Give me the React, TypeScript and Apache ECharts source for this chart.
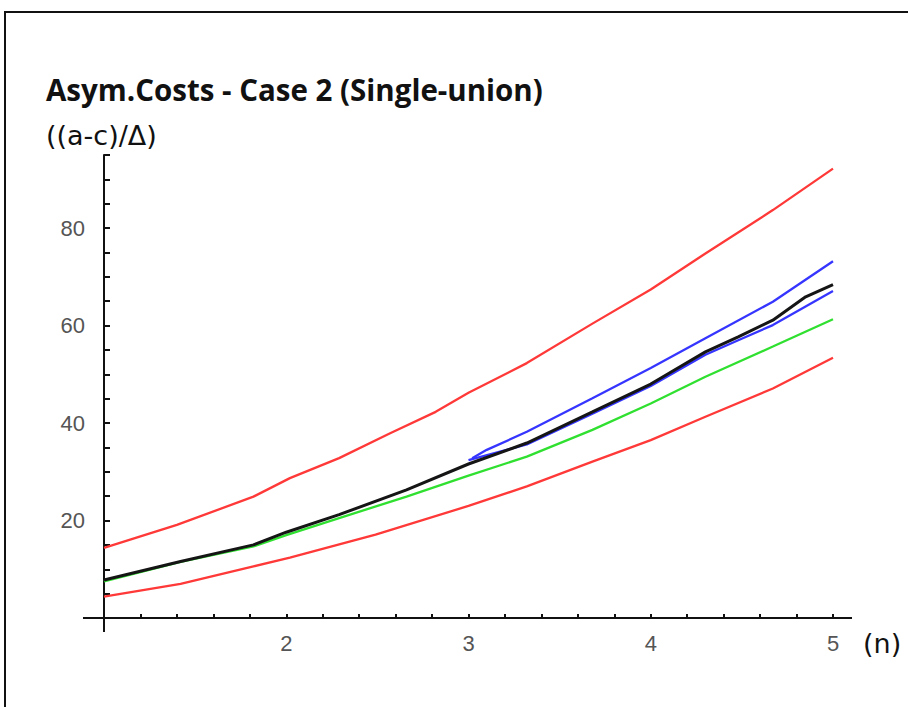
import React, { useEffect, useRef } from "react";
import * as echarts from "echarts";

// Data (x = n, y = (a-c)/Δ)
const upperRed: [number, number][] = [
  [1, 14.4], [1.4, 19.1], [1.82, 24.9], [2.02, 28.7], [2.29, 32.8], [2.57, 37.9],
  [2.82, 42.3], [3.0, 46.2], [3.32, 52.3], [3.68, 60.4], [4.0, 67.4], [4.3, 74.8],
  [4.67, 83.7], [5.0, 92.2],
];
const lowerRed: [number, number][] = [
  [1, 4.4], [1.42, 7.0], [1.82, 10.6], [2.02, 12.4], [2.49, 17.1], [3.0, 23.0],
  [3.32, 27.0], [3.68, 32.1], [4.0, 36.5], [4.3, 41.3], [4.67, 47.1], [5.0, 53.4],
];
const greenLine: [number, number][] = [
  [1, 7.5], [1.42, 11.5], [1.82, 14.7], [2.0, 17.0], [2.29, 20.5], [2.66, 24.9],
  [3.0, 29.2], [3.32, 33.1], [3.68, 38.6], [4.0, 44.0], [4.3, 49.5], [4.67, 55.7],
  [5.0, 61.3],
];
const blackLine: [number, number][] = [
  [1, 7.8], [1.42, 11.6], [1.82, 15.0], [2.0, 17.6], [2.29, 21.2], [2.66, 26.3],
  [3.0, 31.6], [3.32, 35.9], [3.68, 42.3], [4.0, 48.0], [4.3, 54.6], [4.48, 57.7],
  [4.67, 61.1], [4.85, 65.9], [5.0, 68.4],
];
const upperBlue: [number, number][] = [
  [3.02, 32.8], [3.1, 34.5], [3.32, 38.2], [3.68, 45.1], [4.0, 51.3], [4.3, 57.4],
  [4.67, 64.9], [5.0, 73.2],
];
const lowerBlue: [number, number][] = [
  [3.0, 32.4], [3.32, 35.6], [3.68, 41.9], [4.0, 47.6], [4.3, 54.0], [4.48, 57.0],
  [4.67, 60.1], [5.0, 67.1],
];

const titleText = "Asym.Costs - Case 2 (Single-union)";
const yName = "((a-c)/Δ)";
const xName = "(n)";

const RED = "#ff3838";
const BLUE = "#3535ff";
const GREEN = "#30e030";
const BLACK = "#151515";

export default function App() {
  const ref = useRef<HTMLDivElement>(null);
  useEffect(() => {
    if (!ref.current) return;
    const chart = echarts.init(ref.current, null, { renderer: "svg" });
    const gridLeft = 104;
    const gridTop = 155;
    const gridW = 729;
    const gridH = 463;
    const axisY = gridTop + gridH;
    const line = (name: string, data: [number, number][], color: string, width = 2.3) => ({
      name,
      type: "line",
      data,
      symbol: "none",
      smooth: false,
      lineStyle: { color, width },
      itemStyle: { color },
    });
    chart.setOption({
      animation: false,
      backgroundColor: "#ffffff",
      title: [
        {
          text: titleText,
          left: 46,
          top: 74,
          padding: 0,
          textStyle: { fontFamily: "Open Sans", fontWeight: "bold", fontSize: 29.5, color: "#111" },
        },
        {
          text: yName,
          left: 46,
          top: 122,
          padding: 0,
          textStyle: { fontFamily: "DejaVu Sans", fontWeight: "normal", fontSize: 27, color: "#111" },
        },
      ],
      grid: { left: gridLeft, top: gridTop, width: gridW, height: gridH },
      xAxis: {
        type: "value",
        min: 1,
        max: 5,
        interval: 0.2,
        name: xName,
        nameLocation: "end",
        nameGap: 30,
        nameTextStyle: {
          fontFamily: "DejaVu Sans",
          fontSize: 27,
          color: "#111",
          verticalAlign: "top",
          padding: [12, 0, 0, 0],
        },
        axisLine: { show: true, lineStyle: { color: "#111", width: 2 } },
        axisTick: { show: true, inside: true, length: 4, lineStyle: { color: "#111", width: 2 } },
        splitLine: { show: false },
        axisLabel: {
          margin: 14,
          fontFamily: "Liberation Sans",
          fontSize: 22,
          color: "#555",
          formatter: (v: number) =>
            Math.abs(v - Math.round(v)) < 1e-6 && v > 1.5 ? String(Math.round(v)) : "",
        },
      },
      yAxis: {
        type: "value",
        min: 0,
        max: 95,
        interval: 5,
        axisLine: { show: true, lineStyle: { color: "#111", width: 2 } },
        axisTick: { show: true, inside: true, length: 6, lineStyle: { color: "#111", width: 2 } },
        splitLine: { show: false },
        axisLabel: {
          margin: 19,
          fontFamily: "Liberation Sans",
          fontSize: 22,
          color: "#555",
          formatter: (v: number) => (v > 0 && v % 20 === 0 ? String(v) : ""),
        },
      },
      graphic: [
        {
          type: "rect",
          shape: { x: 5, y: 12, width: 1000, height: 800 },
          style: { fill: "none", stroke: "#111", lineWidth: 2 },
          silent: true,
        },
        {
          type: "line",
          shape: { x1: 83, y1: axisY, x2: gridLeft, y2: axisY },
          style: { stroke: "#111", lineWidth: 2 },
          silent: true,
        },
        {
          type: "line",
          shape: { x1: gridLeft + gridW, y1: axisY, x2: 852, y2: axisY },
          style: { stroke: "#111", lineWidth: 2 },
          silent: true,
        },
        {
          type: "line",
          shape: { x1: gridLeft, y1: axisY, x2: gridLeft, y2: axisY + 14 },
          style: { stroke: "#111", lineWidth: 2 },
          silent: true,
        },
      ],
      series: [
        line("upper red", upperRed, RED),
        line("lower red", lowerRed, RED),
        line("green", greenLine, GREEN),
        line("lower blue", lowerBlue, BLUE),
        line("black", blackLine, BLACK, 3),
        line("upper blue", upperBlue, BLUE),
      ],
    });
    return () => chart.dispose();
  }, []);
  return (
    <div
      ref={ref}
      style={{ position: "absolute", left: 0, top: 0, width: 908, height: 707, background: "#fff" }}
    />
  );
}
